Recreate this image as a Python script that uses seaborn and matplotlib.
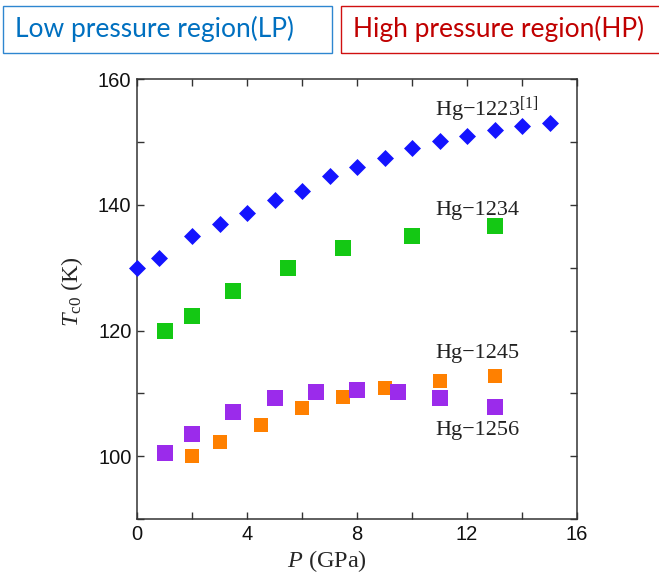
import numpy as np
import pandas as pd
import seaborn as sns
import matplotlib.pyplot as plt
from matplotlib.patches import Rectangle
from matplotlib.ticker import MultipleLocator

# data
p_1223 = [0, 0.8, 2, 3, 4, 5, 6, 7, 8, 9, 10, 11, 12, 13, 14, 15]
tc_1223 = [130.0, 131.6, 135.0, 136.9, 138.7, 140.8, 142.2, 144.6, 146.1, 147.5, 149.0, 150.1, 150.9, 151.9, 152.6, 153.0]
p_1234 = [1, 2, 3.5, 5.5, 7.5, 10, 13]
tc_1234 = [119.9, 122.3, 126.3, 130.0, 133.1, 135.1, 136.7]
p_1245 = [2, 3, 4.5, 6, 7.5, 9, 11, 13]
tc_1245 = [100.0, 102.3, 105.0, 107.7, 109.4, 110.9, 111.9, 112.7]
p_1256 = [1, 2, 3.5, 5, 6.5, 8, 9.5, 11, 13]
tc_1256 = [100.5, 103.5, 107.0, 109.3, 110.3, 110.6, 110.2, 109.3, 107.9]

sns.set_style('ticks')
plt.rcParams['font.family'] = ['Liberation Serif', 'DejaVu Serif']
plt.rcParams['mathtext.fontset'] = 'custom'
plt.rcParams['mathtext.rm'] = 'Liberation Serif'
plt.rcParams['mathtext.it'] = 'Liberation Serif:italic'

fig = plt.figure(figsize=(6.59, 5.73), dpi=100)
ax = fig.add_axes([0.2079, 0.0942, 0.6677, 0.7674])

series = [
    (p_1223, tc_1223, 'D', 75, '#1414FF'),
    (p_1234, tc_1234, 's', 133, '#14C814'),
    (p_1245, tc_1245, 's', 88, '#FF8000'),
    (p_1256, tc_1256, 's', 133, '#9B2BEB'),
]
for xs, ys, mk, sz, col in series:
    df = pd.DataFrame({'P': xs, 'Tc': ys})
    sns.scatterplot(data=df, x='P', y='Tc', marker=mk, s=sz, color=col,
                    linewidth=0, ax=ax, clip_on=False, zorder=3)

ax.set_xlim(0, 16)
ax.set_ylim(90, 160)
ax.xaxis.set_major_locator(MultipleLocator(4))
ax.xaxis.set_minor_locator(MultipleLocator(2))
ax.yaxis.set_minor_locator(MultipleLocator(10))
ax.set_yticks([100, 120, 140, 160])
ax.tick_params(which='both', direction='in', top=True, right=True,
               length=4.7, width=1.0, color='#333333')
ax.tick_params(which='major', labelsize=14.5, labelfontfamily='Liberation Sans',
               labelcolor='#111111', pad=4)
for sp in ax.spines.values():
    sp.set_linewidth(1.1)
    sp.set_color('#333333')

ax.set_xlabel(r'$P$ (GPa)', fontsize=17.5)
ax.xaxis.set_label_coords(0.431, -0.066)
ax.set_ylabel(r'$T_{\mathrm{c0}}$ (K)', fontsize=17.5)
ax.yaxis.set_label_coords(-0.118, 0.517)

lab_kw = dict(fontsize=16, va='center', ha='left', color='#222222')
ax.text(10.84, 155.1, 'Hg\u22121223$^{[1]}$', **lab_kw)
ax.text(10.84, 139.1, 'Hg\u22121234', **lab_kw)
ax.text(10.84, 116.3, 'Hg\u22121245', **lab_kw)
ax.text(10.84, 104.1, 'Hg\u22121256', **lab_kw)

# header boxes
W, H = 659.0, 573.0
fig.patches.append(Rectangle((3 / W, 1 - 52.7 / H), 329 / W, 47 / H, transform=fig.transFigure,
                             fill=False, edgecolor='#2E86D0', linewidth=1.0))
fig.patches.append(Rectangle((340.7 / W, 1 - 52.7 / H), 330 / W, 47 / H, transform=fig.transFigure,
                             fill=False, edgecolor='#D01010', linewidth=1.0))
fig.text(15 / W, 1 - 37.3 / H, 'Low pressure region(LP)', family='Lato', fontsize=19,
         color='#0070C0', va='baseline', ha='left')
fig.text(353 / W, 1 - 37.3 / H, 'High pressure region(HP)', family='Lato', fontsize=19,
         color='#C00000', va='baseline', ha='left')

fig.savefig('out.png', dpi=100)
